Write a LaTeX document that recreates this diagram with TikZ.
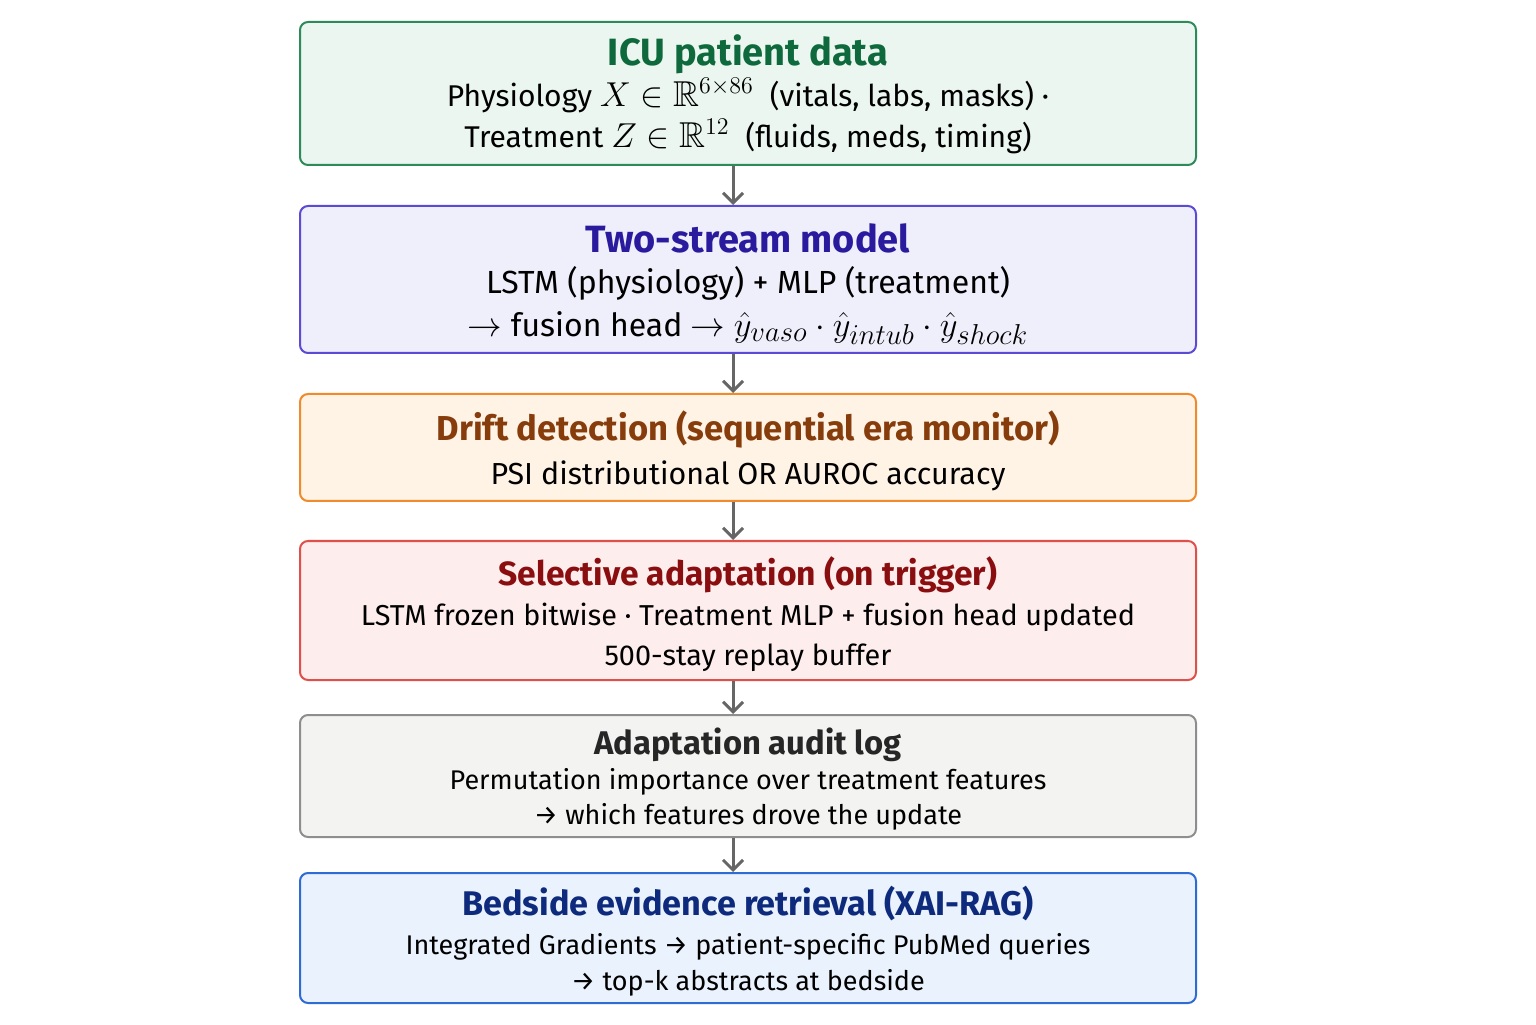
\documentclass[tikz,border=0pt]{standalone}
\usepackage{amsmath}
\usepackage{amssymb}
\usepackage{fontspec}
\setmainfont{Fira Sans}
\usetikzlibrary{arrows.meta}

\definecolor{grnfill}{HTML}{EAF6EF}
\definecolor{grnline}{HTML}{2F8A5B}
\definecolor{grntext}{HTML}{0E6A3C}
\definecolor{blufill}{HTML}{EFEEFB}
\definecolor{bluline}{HTML}{5A4AD4}
\definecolor{blutext}{HTML}{2A1B9E}
\definecolor{orfill}{HTML}{FFF3E5}
\definecolor{orline}{HTML}{EF8B2A}
\definecolor{ortext}{HTML}{873C0C}
\definecolor{redfill}{HTML}{FDEDEC}
\definecolor{redline}{HTML}{E0504B}
\definecolor{redtext}{HTML}{8A0E10}
\definecolor{gryfill}{HTML}{F3F3F1}
\definecolor{gryline}{HTML}{8E8E8E}
\definecolor{grytext}{HTML}{262626}
\definecolor{skyfill}{HTML}{EAF2FD}
\definecolor{skyline}{HTML}{2E6BD5}
\definecolor{skytext}{HTML}{0E2A7C}
\definecolor{arrgray}{HTML}{666666}

\tikzset{
  box/.style={draw, rounded corners=4pt, line width=1pt, minimum width=448pt,
    align=center, inner sep=0pt},
  flow/.style={draw=arrgray, line width=1.5pt, -{Straight Barb[length=5pt,width=10pt]}}
}
% size, extra space on top, text
\newcommand{\boxtitle}[3]{{\fontsize{#1}{#1}\selectfont\bfseries
  \raisebox{0pt}[\dimexpr\height+#2\relax][\depth]{#3}}}
\newcommand{\mth}[2]{{\fontsize{#1}{#1}\selectfont$#2$}}

\begin{document}
\begin{tikzpicture}
\useasboundingbox (0,0) rectangle (768pt,512pt);
%pipeline
\node [box, fill=grnfill, draw=grnline, minimum height=71.5pt,
  font=\fontsize{15}{20.5}\selectfont] (data) at (374pt,465.25pt)
  {\textcolor{grntext}{\boxtitle{19}{0.75pt}{ICU patient data}}\\[-0.25pt]
   Physiology \mth{18}{X \in \mathbb{R}^{6\times 86}}\ \ (vitals, labs, masks) ·\\
   Treatment \mth{18}{Z \in \mathbb{R}^{12}}\ \ (fluids, meds, timing)};
\node [box, fill=blufill, draw=bluline, minimum height=73.5pt,
  font=\fontsize{16}{21.5}\selectfont] (model) at (374pt,372.25pt)
  {\textcolor{blutext}{\boxtitle{19}{4.5pt}{Two-stream model}}\\[-0.7pt]
   LSTM (physiology) + MLP (treatment)\\
   $\rightarrow$\ fusion head $\rightarrow$ \mth{19}{\hat{y}_{vaso}\cdot\hat{y}_{intub}\cdot\hat{y}_{shock}}};
\node [box, fill=orfill, draw=orline, minimum height=53.5pt,
  font=\fontsize{15.2}{20}\selectfont] (drift) at (374pt,288.25pt)
  {\textcolor{ortext}{\boxtitle{17.3}{3pt}{Drift detection (sequential era monitor)}}\\[2pt]
   PSI distributional OR AUROC accuracy};
\node [box, fill=redfill, draw=redline, minimum height=69.5pt,
  font=\fontsize{14.4}{20}\selectfont] (adapt) at (374pt,206.75pt)
  {\textcolor{redtext}{\boxtitle{16.8}{3.5pt}{Selective adaptation (on trigger)}}\\[0.1pt]
   LSTM frozen bitwise · Treatment MLP + fusion head updated\\
   500-stay replay buffer};
\node [box, fill=gryfill, draw=gryline, minimum height=61pt,
  font=\fontsize{13.5}{17.5}\selectfont] (audit) at (374pt,124pt)
  {\textcolor{grytext}{\boxtitle{16.4}{3pt}{Adaptation audit log}}\\[0.2pt]
   Permutation importance over treatment features\\
   → which features drove the update};
\node [box, fill=skyfill, draw=skyline, minimum height=65pt,
  font=\fontsize{13.5}{18}\selectfont] (rag) at (374pt,43pt)
  {\textcolor{skytext}{\boxtitle{17.1}{3pt}{Bedside evidence retrieval (XAI-RAG)}}\\[1.4pt]
   Integrated Gradients → patient-specific PubMed queries\\
   → top-k abstracts at bedside};
%arrows
\draw [flow] ([xshift=-7.5pt]data.south) -- ([xshift=-7.5pt]model.north);
\draw [flow] ([xshift=-7.5pt]model.south) -- ([xshift=-7.5pt]drift.north);
\draw [flow] ([xshift=-7.5pt]drift.south) -- ([xshift=-7.5pt]adapt.north);
\draw [flow] ([xshift=-7.5pt]adapt.south) -- ([xshift=-7.5pt]audit.north);
\draw [flow] ([xshift=-7.5pt]audit.south) -- ([xshift=-7.5pt]rag.north);
\end{tikzpicture}
\end{document}
